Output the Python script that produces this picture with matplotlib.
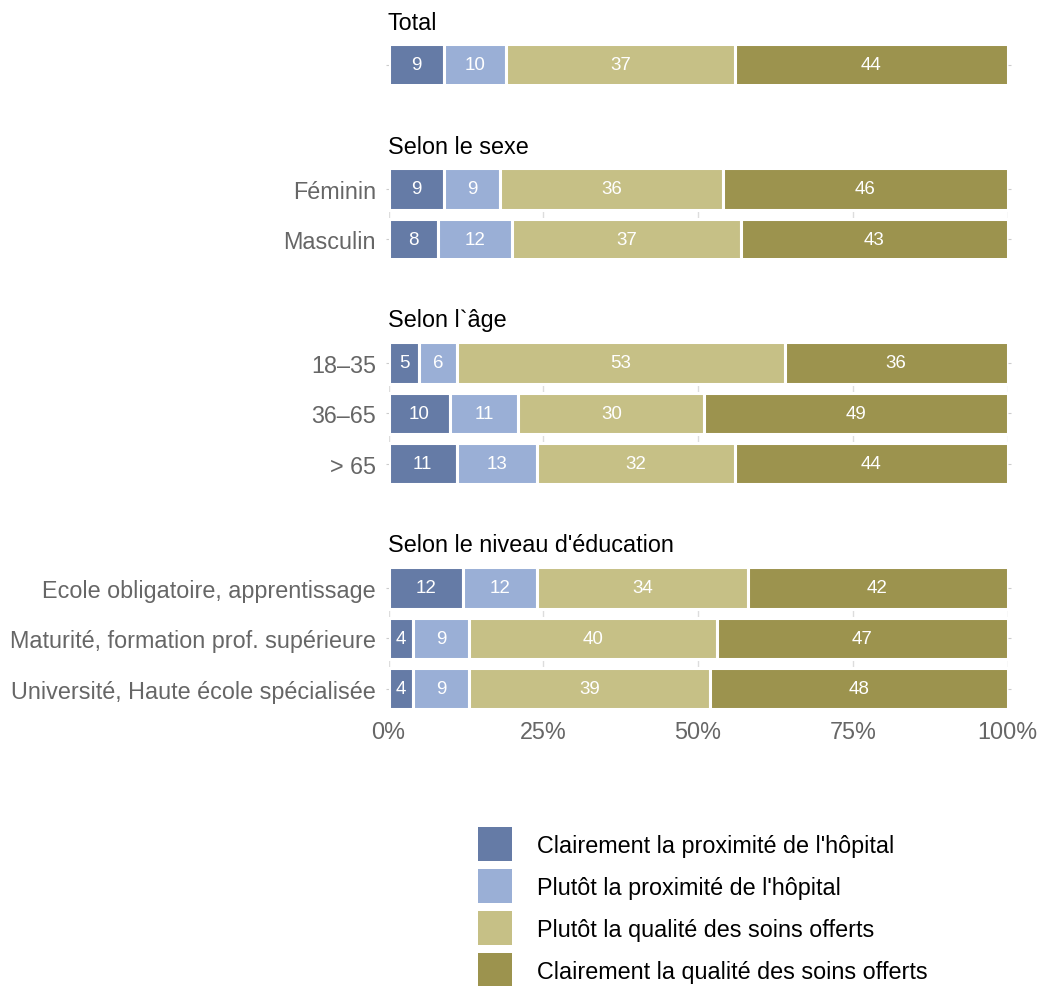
import numpy as np
import matplotlib.pyplot as plt
from matplotlib.patches import Patch

plt.rcParams['font.family'] = ['Liberation Sans', 'DejaVu Sans']

# answers in percent, one row per group
series = ["Clairement la proximité de l'hôpital",
          "Plutôt la proximité de l'hôpital",
          "Plutôt la qualité des soins offerts",
          "Clairement la qualité des soins offerts"]
colors = ['#657ba6', '#9aafd6', '#c6c086', '#9c934e']

panel_titles = ['Total', 'Selon le sexe', 'Selon l`âge',
                "Selon le niveau d'éducation"]
panel_labels = [
    [''],
    ['Féminin', 'Masculin'],
    ['18–35', '36–65', '> 65'],
    ['Ecole obligatoire, apprentissage',
     'Maturité, formation prof. supérieure',
     'Université, Haute école spécialisée'],
]
panel_values = [
    [[9, 10, 37, 44]],
    [[9, 9, 36, 46],
     [8, 12, 37, 43]],
    [[5, 6, 53, 36],
     [10, 11, 30, 49],
     [11, 13, 32, 44]],
    [[12, 12, 34, 42],
     [4, 9, 40, 47],
     [4, 9, 39, 48]],
]
xticks = [0, 25, 50, 75, 100]
xticklabels = ['0%', '25%', '50%', '75%', '100%']

W, H = 1039, 987
fig = plt.figure(figsize=(W / 100, H / 100), dpi=100)

FS = 16.8                   # main text size
x0, x1 = 388.5, 1007.5      # pixel extent of 0..100
pitch = 50.4                # pixels per bar row
half = 19 / pitch           # visible half height of a bar
first_centres = [66, 190, 364, 589]

for i, (title, labels, vals) in enumerate(zip(panel_titles, panel_labels,
                                              panel_values)):
    n = len(labels)
    top = first_centres[i] - 19
    height = (n - 1) * pitch + 38
    ax = fig.add_axes([x0 / W, 1 - (top + height) / H,
                       (x1 - x0) / W, height / H])
    vals = np.array(vals, dtype=float)
    y = np.arange(n)
    left = np.zeros(n)
    for j in range(4):
        ax.barh(y, vals[:, j], left=left, height=0.82, color=colors[j],
                edgecolor='white', linewidth=2.2, zorder=2)
        for k in range(n):
            ax.text(left[k] + vals[k, j] / 2, y[k], f'{vals[k, j]:.0f}',
                    ha='center', va='center', color='white', fontsize=13.5,
                    zorder=3)
        left += vals[:, j]

    ax.set_xlim(0, 100)
    ax.set_ylim(n - 1 + half, -half)
    ax.set_xticks(xticks)
    ax.grid(axis='x', color='#dddddd', linewidth=1, zorder=0)
    ax.set_axisbelow(True)
    for s in ax.spines.values():
        s.set_visible(False)
    ax.set_yticks(y)
    ax.set_yticklabels(labels, fontsize=FS, color='#666666')
    ax.tick_params(axis='y', length=2, width=0.8, color='#cccccc', pad=7,
                   right=True)
    if i == 3:
        ax.set_xticklabels(xticklabels, fontsize=FS, color='#666666')
        ax.tick_params(axis='x', length=0, pad=9)
    else:
        ax.tick_params(axis='x', length=0, labelbottom=False)

    # group heading above each panel
    fig.text(388 / W, 1 - (top - 24) / H, title, ha='left', va='center',
             fontsize=FS, color='black')

handles = [Patch(facecolor=c, edgecolor='none') for c in colors]
fig.legend(handles, series, loc='upper left',
           bbox_to_anchor=(478 / W, 1 - 828 / H), frameon=False,
           fontsize=FS, handlelength=1.46, handleheight=1.87,
           handletextpad=1.05, labelspacing=0.34, borderpad=0,
           borderaxespad=0)

fig.savefig('out.png', dpi=100, facecolor='white')
